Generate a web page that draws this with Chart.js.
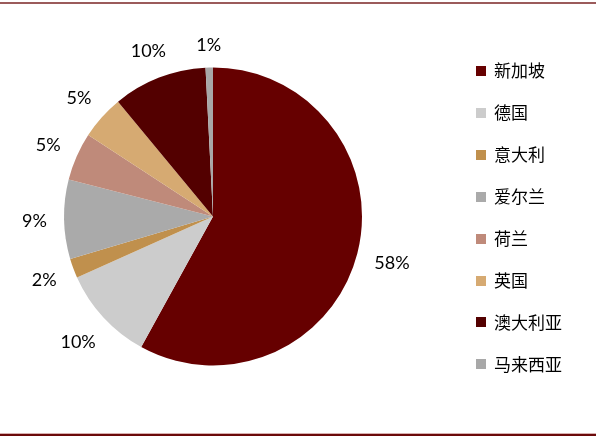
<!DOCTYPE html>
<html>
<head>
<meta charset="utf-8">
<script src="https://cdn.jsdelivr.net/npm/chart.js@4.4.1/dist/chart.umd.min.js"></script>
<style>
  html, body { margin: 0; padding: 0; background: #fff; }
  canvas { display: block; }
</style>
</head>
<body>
<canvas id="graficoPaises" width="596" height="436"></canvas>
<script>
var paises = ["新加坡", "德国", "意大利", "爱尔兰", "荷兰", "英国", "澳大利亚", "马来西亚"];
var percentuais = [58.0, 10.3, 2.1, 8.6, 5.2, 4.8, 10.2, 0.8];
var cores = ["#660000", "#cccccc", "#c0904d", "#aaaaaa", "#bf8a7a", "#d6aa72", "#530000", "#a8a8a8"];

// rotulos de percentual fora da pizza
var rotulosPlugin = {
  id: "rotulos",
  afterDatasetsDraw: function (chart) {
    var ctx = chart.ctx;
    var meta = chart.getDatasetMeta(0);
    ctx.save();
    ctx.font = "18px Lato";
    ctx.fillStyle = "#000";
    ctx.textAlign = "center";
    ctx.textBaseline = "middle";
    meta.data.forEach(function (arc, i) {
      var p = arc.getProps(["x", "y", "startAngle", "endAngle", "outerRadius"], true);
      var meio = (p.startAngle + p.endAngle) / 2;
      var texto = Math.round(percentuais[i]) + "%";
      var w = ctx.measureText(texto).width;
      var h = 13;
      var cx = Math.cos(meio), cy = Math.sin(meio);
      var d = p.outerRadius + 17 + Math.abs(cx) * w / 2 + Math.abs(cy) * h / 2;
      ctx.fillText(texto, p.x + cx * d, p.y + cy * d + 1);
    });
    ctx.restore();
  },
};

// legenda e linhas de moldura
var legendaPlugin = {
  id: "legenda",
  afterDraw: function (chart) {
    var ctx = chart.ctx;
    ctx.save();
    ctx.fillStyle = "#9b5b5b";
    ctx.fillRect(0, 2, 596, 2);
    ctx.fillStyle = "#d8b0b0";
    ctx.fillRect(0, 433, 596, 1);
    ctx.fillStyle = "#6b0a0a";
    ctx.fillRect(0, 434, 596, 2);
    ctx.font = "17px 'Noto Sans CJK SC'";
    ctx.textBaseline = "middle";
    ctx.textAlign = "left";
    paises.forEach(function (nome, i) {
      var y = 71 + i * 41.9;
      ctx.fillStyle = cores[i];
      ctx.fillRect(476, Math.round(y - 5), 10, 10);
      ctx.fillStyle = "#000";
      ctx.fillText(nome, 494, y);
    });
    ctx.restore();
  },
};

var ctx1 = document.getElementById("graficoPaises").getContext("2d");
var graficoPaises = new Chart(ctx1, {
  type: "pie",
  data: {
    labels: paises,
    datasets: [
      {
        data: percentuais,
        backgroundColor: cores,
        borderWidth: 0,
        hoverOffset: 0,
      },
    ],
  },
  options: {
    responsive: false,
    animation: false,
    events: [],
    devicePixelRatio: 1,
    layout: {
      padding: { left: 64, right: 234, top: 67, bottom: 70 },
    },
    plugins: {
      legend: { display: false },
      tooltip: { enabled: false },
    },
  },
  plugins: [rotulosPlugin, legendaPlugin],
});
</script>
</body>
</html>
